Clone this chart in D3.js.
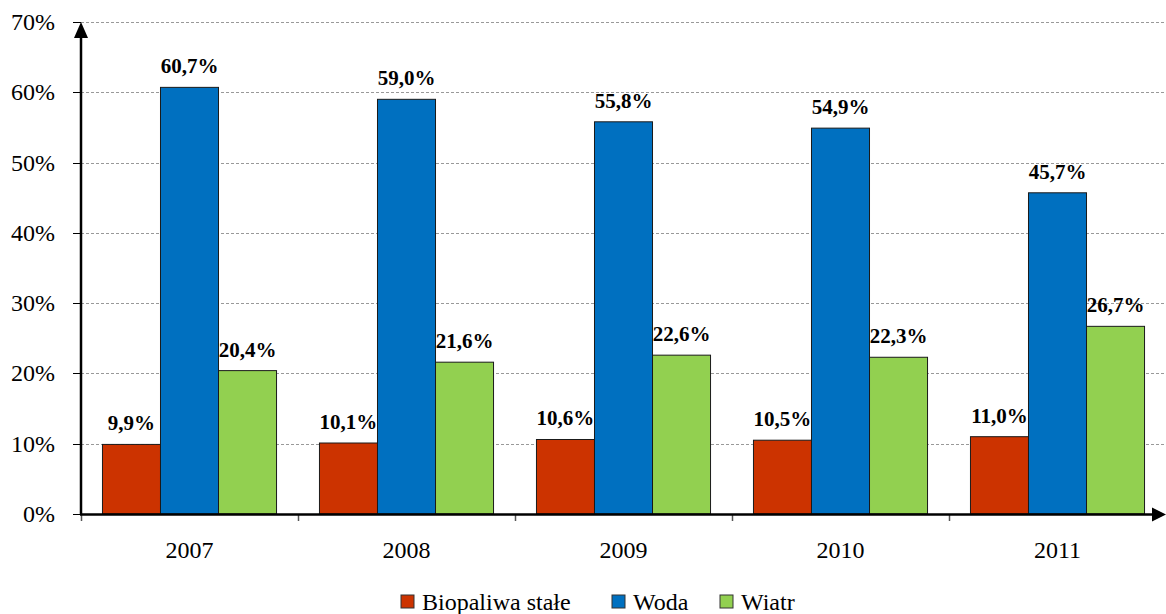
<!DOCTYPE html>
<html><head><meta charset="utf-8"><script src="https://cdn.jsdelivr.net/npm/d3@7"></script></head>
<body style="margin:0;background:#fff">
<svg id="chart" width="1166" height="614" style="display:block"></svg>
<script>
// Udział źródeł w produkcji energii odnawialnej, 2007–2011
const years = ["2007", "2008", "2009", "2010", "2011"];
const seriesNames = ["Biopaliwa stałe", "Woda", "Wiatr"];
const biopaliwa = [9.9, 10.1, 10.6, 10.5, 11.0];
const woda = [60.7, 59.0, 55.8, 54.9, 45.7];
const wiatr = [20.4, 21.6, 22.6, 22.3, 26.7];
const colors = ["#CC3300", "#0070C0", "#92D050"];
const yTicks = [0, 10, 20, 30, 40, 50, 60, 70];

const series = [biopaliwa, woda, wiatr];
const svg = d3.select("#chart");
const serifFont = '"Liberation Serif", "Times New Roman", Tinos, serif';

const plotLeft = 81, plotRight = 1166, plotTop = 22, plotBottom = 514;

const x = d3.scaleBand().domain(years).range([plotLeft, plotRight]).paddingInner(0).paddingOuter(0);
const x1 = d3.scaleBand().domain(seriesNames).range([0, x.bandwidth()]).paddingOuter(0.37).paddingInner(0);
const y = d3.scaleLinear().domain([0, 70]).range([plotBottom, plotTop]);

const fmt = v => v.toFixed(1).replace(".", ",") + "%";

function label(sel) {
  return sel.attr("font-family", serifFont).style("font-family", serifFont).attr("fill", "#000");
}

// siatka pozioma
svg.append("g").selectAll("line").data(yTicks.filter(d => d > 0)).join("line")
  .attr("x1", plotLeft).attr("x2", plotRight)
  .attr("y1", d => Math.round(y(d)) + 0.5).attr("y2", d => Math.round(y(d)) + 0.5)
  .attr("stroke", "#999").attr("stroke-width", 1).attr("stroke-dasharray", "3,2");

// oś Y: znaczniki i etykiety
const yAxis = svg.append("g");
yAxis.selectAll("line").data(yTicks).join("line")
  .attr("x1", plotLeft - 8).attr("x2", plotLeft)
  .attr("y1", d => Math.round(y(d)) + 0.5).attr("y2", d => Math.round(y(d)) + 0.5)
  .attr("stroke", "#000").attr("stroke-width", 1);
yAxis.selectAll("text").data(yTicks).join("text")
  .attr("x", plotLeft - 26).attr("y", d => y(d) + 8)
  .attr("text-anchor", "end").attr("font-size", 24)
  .call(label)
  .text(d => d + "%");

// słupki
const groups = svg.append("g").selectAll("g").data(years).join("g")
  .attr("transform", d => `translate(${x(d)},0)`);

groups.selectAll("rect")
  .data((yr, i) => seriesNames.map((s, k) => ({ s, k, v: series[k][i] })))
  .join("rect")
  .attr("x", d => x1(d.s))
  .attr("y", d => y(d.v))
  .attr("width", x1.bandwidth())
  .attr("height", d => y(0) - y(d.v))
  .attr("fill", d => colors[d.k])
  .attr("stroke", "#1a1a1a").attr("stroke-width", 1);

groups.selectAll("text.val")
  .data((yr, i) => seriesNames.map((s, k) => ({ s, k, v: series[k][i] })))
  .join("text").attr("class", "val")
  .attr("x", d => x1(d.s) + x1.bandwidth() / 2)
  .attr("y", d => y(d.v) - 14)
  .attr("text-anchor", "middle").attr("font-size", 21).attr("font-weight", "bold")
  .call(label)
  .text(d => fmt(d.v));

// oś X: znaczniki kategorii i etykiety
svg.append("g").selectAll("line").data(years).join("line")
  .attr("x1", d => Math.round(x(d)) + 0.5).attr("x2", d => Math.round(x(d)) + 0.5)
  .attr("y1", plotBottom).attr("y2", plotBottom + 7)
  .attr("stroke", "#555").attr("stroke-width", 1.5);

svg.append("g").selectAll("text").data(years).join("text")
  .attr("x", d => x(d) + x.bandwidth() / 2).attr("y", 558)
  .attr("text-anchor", "middle").attr("font-size", 24)
  .call(label)
  .text(d => d);

// osie ze strzałkami
svg.append("line").attr("x1", plotLeft).attr("x2", plotLeft).attr("y1", plotBottom + 1).attr("y2", plotTop + 14)
  .attr("stroke", "#000").attr("stroke-width", 2.5);
svg.append("path").attr("d", `M${plotLeft},${plotTop} L${plotLeft - 7},${plotTop + 16} L${plotLeft + 7},${plotTop + 16} Z`).attr("fill", "#000");

svg.append("line").attr("x1", plotLeft - 1).attr("x2", plotRight - 12).attr("y1", plotBottom + 0.5).attr("y2", plotBottom + 0.5)
  .attr("stroke", "#000").attr("stroke-width", 2.5);
svg.append("path").attr("d", `M${plotRight},${plotBottom + 0.5} L${plotRight - 14},${plotBottom - 6.5} L${plotRight - 14},${plotBottom + 7.5} Z`).attr("fill", "#000");

// legenda
const legendX = [401, 612, 720];
const legend = svg.append("g").selectAll("g").data(seriesNames).join("g")
  .attr("transform", (d, i) => `translate(${legendX[i]},595)`);
legend.append("rect").attr("width", 13).attr("height", 13)
  .attr("fill", (d, i) => colors[i]).attr("stroke", "#333").attr("stroke-width", 1);
legend.append("text").attr("x", 21).attr("y", 15).attr("font-size", 24)
  .call(label)
  .text(d => d);
</script>
</body>
</html>
